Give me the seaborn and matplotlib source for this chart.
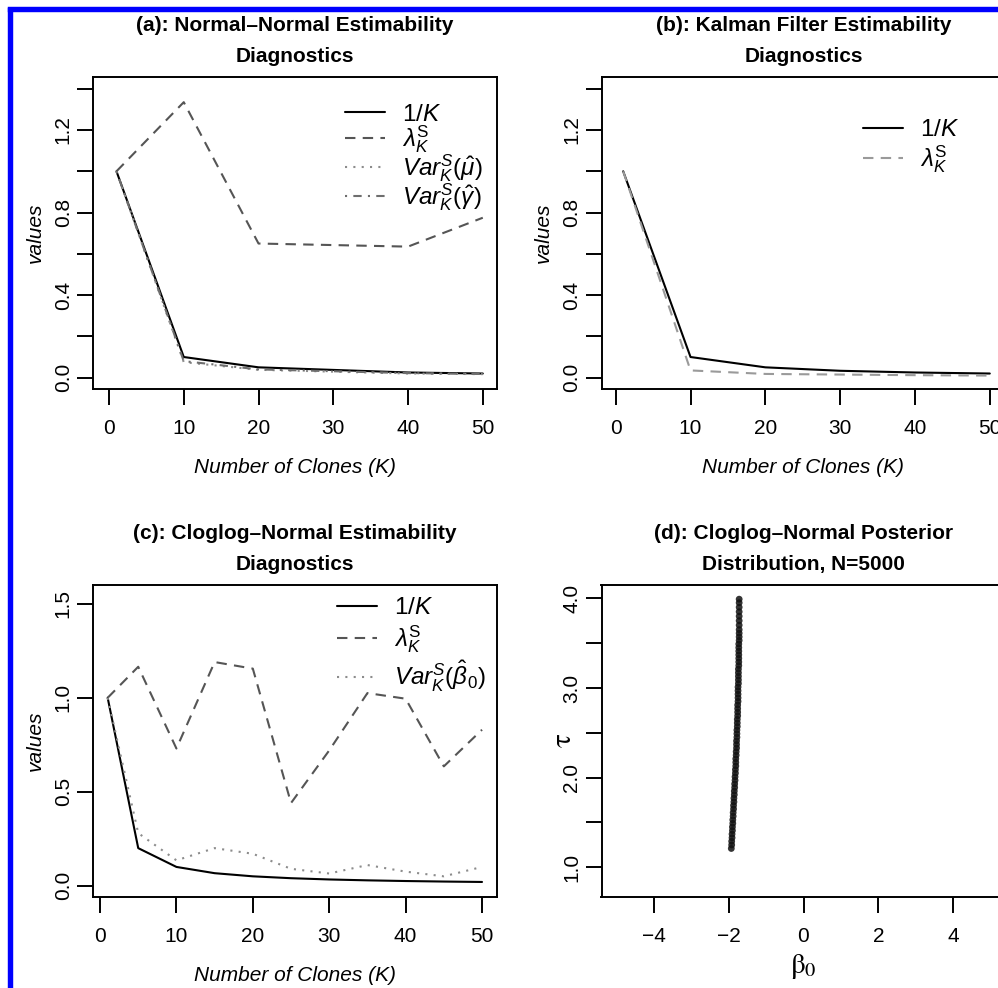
import numpy as np
import pandas as pd
import matplotlib
matplotlib.use('Agg')
import matplotlib.pyplot as plt
from matplotlib.lines import Line2D
import seaborn as sns

# (a) Normal-Normal estimability diagnostics
k_a = [1, 10, 20, 40, 50]
inv_k_a = [1.0, 0.1, 0.05, 0.025, 0.02]
lam_a = [1.0, 1.335, 0.65, 0.635, 0.775]
var_mu_a = [1.0, 0.075, 0.038, 0.02, 0.017]
var_gam_a = [1.0, 0.08, 0.04, 0.022, 0.018]

# (b) Kalman filter estimability diagnostics
k_b = [1, 10, 20, 30, 40, 50]
inv_k_b = [1.0, 0.1, 0.05, 0.0333, 0.025, 0.02]
lam_b = [1.0, 0.035, 0.018, 0.015, 0.012, 0.01]

# (c) Cloglog-Normal estimability diagnostics
k_c = [1, 5, 10, 15, 20, 25, 30, 35, 40, 45, 50]
inv_k_c = [1.0, 0.2, 0.1, 0.0667, 0.05, 0.04, 0.0333, 0.0286, 0.025, 0.0222, 0.02]
lam_c = [1.0, 1.165, 0.73, 1.19, 1.155, 0.44, 0.72, 1.025, 0.995, 0.635, 0.83]
var_b0_c = [1.0, 0.28, 0.135, 0.20, 0.17, 0.09, 0.065, 0.11, 0.075, 0.05, 0.10]

tau_d = [1.21, 1.25, 1.29, 1.33, 1.37, 1.41, 1.45, 1.49, 1.53, 1.57, 1.61, 1.65,
         1.69, 1.73, 1.77, 1.81, 1.85, 1.89, 1.93, 1.97, 2.01, 2.05, 2.09, 2.13,
         2.17, 2.21, 2.25, 2.29, 2.33, 2.37, 2.41, 2.45, 2.49, 2.53, 2.57, 2.61,
         2.65, 2.69, 2.73, 2.77, 2.81, 2.85, 2.89, 2.93, 2.97, 3.01, 3.05, 3.09,
         3.13, 3.17, 3.21, 3.25, 3.29, 3.33, 3.37, 3.41, 3.45, 3.49, 3.53, 3.57,
         3.61, 3.65, 3.70, 3.75, 3.80, 3.85, 3.90, 3.95, 3.99]
beta_d = [-1.93, -1.92, -1.92, -1.91, -1.91, -1.90, -1.90, -1.89, -1.89, -1.88, -1.88, -1.87,
          -1.87, -1.86, -1.86, -1.85, -1.85, -1.84, -1.84, -1.83, -1.83, -1.82, -1.82, -1.81,
          -1.81, -1.81, -1.80, -1.80, -1.79, -1.79, -1.79, -1.78, -1.78, -1.78, -1.77, -1.77,
          -1.77, -1.76, -1.76, -1.76, -1.76, -1.75, -1.75, -1.75, -1.75, -1.75, -1.74, -1.74,
          -1.74, -1.74, -1.74, -1.73, -1.73, -1.73, -1.73, -1.73, -1.73, -1.73, -1.72, -1.72,
          -1.72, -1.72, -1.72, -1.72, -1.72, -1.72, -1.72, -1.72, -1.72]

k_ticks = [0, 10, 20, 30, 40, 50]
val_ticks = [0.0, 0.2, 0.4, 0.6, 0.8, 1.0, 1.2, 1.4]
val_labels = ['0.0', '', '0.4', '', '0.8', '', '1.2', '']
c_ticks = [0.0, 0.5, 1.0, 1.5]
c_labels = ['0.0', '0.5', '1.0', '1.5']
tau_ticks = [1.0, 1.5, 2.0, 2.5, 3.0, 3.5, 4.0]
tau_labels = ['1.0', '', '2.0', '', '3.0', '', '4.0']
beta_ticks = [-4, -2, 0, 2, 4]
beta_labels = ['\u22124', '\u22122', '0', '2', '4']

sns.set_style('ticks')
plt.rcParams['font.family'] = ['Liberation Sans', 'DejaVu Sans']
plt.rcParams['text.color'] = 'black'
plt.rcParams['axes.labelcolor'] = 'black'
plt.rcParams['xtick.color'] = 'black'
plt.rcParams['ytick.color'] = 'black'
plt.rcParams['mathtext.fontset'] = 'custom'
plt.rcParams['mathtext.rm'] = 'Liberation Sans'
plt.rcParams['mathtext.it'] = 'Liberation Sans:italic'
plt.rcParams['mathtext.bf'] = 'Liberation Sans:bold'

W, H = 998, 988
fig = plt.figure(figsize=(W / 100, H / 100), dpi=100)


def place(l, r, t, b):
    return [l / W, 1 - b / H, (r - l) / W, (b - t) / H]


ax_a = fig.add_axes(place(93, 497, 77, 389))
ax_b = fig.add_axes(place(601.5, 1005.5, 77, 389))
ax_c = fig.add_axes(place(93, 497, 585, 897))
ax_d = fig.add_axes(place(601.5, 1005.5, 585, 897))

DASH = (0, (5, 3.5))
DOT = (0, (1, 3))
DOTDASH = (0, (1, 3, 4, 3))
LW = 1.5

lab_inv = r'$1/K$'
lab_lam = r'$\lambda_K^{\mathrm{S}}$'

# panel (a)
sns.lineplot(x=k_a, y=inv_k_a, ax=ax_a, color='black', lw=LW, label=lab_inv)
sns.lineplot(x=k_a, y=lam_a, ax=ax_a, color='#555555', lw=LW, linestyle=DASH, label=lab_lam)
sns.lineplot(x=k_a, y=var_mu_a, ax=ax_a, color='#8c8c8c', lw=LW, linestyle=DOT,
             label=r'$Var_K^S(\hat{\mu})$')
sns.lineplot(x=k_a, y=var_gam_a, ax=ax_a, color='#6e6e6e', lw=LW, linestyle=DOTDASH,
             label=r'$Var_K^S(\hat{\gamma})$')

# panel (b)
sns.lineplot(x=k_b, y=inv_k_b, ax=ax_b, color='black', lw=LW, label=lab_inv)
sns.lineplot(x=k_b, y=lam_b, ax=ax_b, color='#9a9a9a', lw=LW, linestyle=DASH, label=lab_lam)

# panel (c)
sns.lineplot(x=k_c, y=inv_k_c, ax=ax_c, color='black', lw=LW, label=lab_inv)
sns.lineplot(x=k_c, y=lam_c, ax=ax_c, color='#555555', lw=LW, linestyle=DASH, label=lab_lam)
sns.lineplot(x=k_c, y=var_b0_c, ax=ax_c, color='#8c8c8c', lw=LW, linestyle=DOT,
             label=r'$Var_K^S(\hat{\beta}_0)$')

# panel (d)
sns.scatterplot(x=beta_d, y=tau_d, ax=ax_d, color='#111111', s=24, alpha=0.85,
                edgecolor='none', linewidth=0)

ax_a.set_xlim(-2.14, 51.9)
ax_a.set_ylim(-0.055, 1.457)
ax_b.set_xlim(-1.9, 52.1)
ax_b.set_ylim(-0.055, 1.457)
ax_c.set_xlim(-0.92, 51.96)
ax_c.set_ylim(-0.06, 1.6)
ax_d.set_xlim(-5.4, 5.4)
ax_d.set_ylim(0.669, 4.148)

titles = {
    ax_a: '(a): Normal\u2013Normal Estimability\nDiagnostics',
    ax_b: '(b): Kalman Filter Estimability\nDiagnostics',
    ax_c: '(c): Cloglog\u2013Normal Estimability\nDiagnostics',
    ax_d: '(d): Cloglog\u2013Normal Posterior\nDistribution, N=5000',
}

for ax in [ax_a, ax_b, ax_c, ax_d]:
    ax.set_title(titles[ax], fontsize=15, fontweight='bold', pad=11, linespacing=1.75)
    for sp in ax.spines.values():
        sp.set_visible(True)
        sp.set_linewidth(1.4)
        sp.set_color('black')
    ax.tick_params(axis='both', direction='out', length=11.5, width=1.4, color='black',
                   labelsize=15, labelcolor='black')
    ax.tick_params(axis='x', pad=10)
    ax.tick_params(axis='y', pad=3)

for ax in [ax_a, ax_b, ax_c]:
    ax.set_xticks(k_ticks)
    ax.set_xticklabels([str(t) for t in k_ticks])
    ax.set_xlabel('Number of Clones (K)', fontsize=15, style='italic')
    ax.set_ylabel('values', fontsize=15, style='italic')
    ax.xaxis.set_label_coords(0.5, -0.22)
    ax.yaxis.set_label_coords(-0.12, 0.5)

for ax in [ax_a, ax_b]:
    ax.set_yticks(val_ticks)
    ax.set_yticklabels(val_labels, rotation=90, va='center')
ax_c.set_yticks(c_ticks)
ax_c.set_yticklabels(c_labels, rotation=90, va='center')
ax_d.set_yticks(tau_ticks)
ax_d.set_yticklabels(tau_labels, rotation=90, va='center')
ax_d.set_xticks(beta_ticks)
ax_d.set_xticklabels(beta_labels)
ax_d.set_xlabel(r'$\mathrm{\beta}_0$', fontsize=21, math_fontfamily='stix')
ax_d.set_ylabel(r'$\mathrm{\tau}$', fontsize=21, math_fontfamily='stix', rotation=90)
ax_d.xaxis.set_label_coords(0.5, -0.175)
ax_d.yaxis.set_label_coords(-0.06, 0.5)


def put_legend(ax, x, y, spacing):
    ax.legend(loc='upper left', bbox_to_anchor=(x, y), frameon=False, fontsize=17.5,
              handlelength=1.65, handletextpad=0.7, labelspacing=spacing,
              borderpad=0, borderaxespad=0)


put_legend(ax_a, 0.624, 0.915, -0.1)
put_legend(ax_b, 0.647, 0.865, 0.1)
put_legend(ax_c, 0.604, 0.96, 0.15)

# blue frame on the left and top edges
fig.add_artist(Line2D([10 / W, 10 / W], [0, 1 - 10 / H], color='#0000ff', lw=3.9,
                      transform=fig.transFigure, solid_capstyle='projecting'))
fig.add_artist(Line2D([10 / W, 1], [1 - 9.5 / H, 1 - 9.5 / H], color='#0000ff', lw=3.9,
                      transform=fig.transFigure, solid_capstyle='projecting'))

fig.savefig('out.png', dpi=100, facecolor='white')
